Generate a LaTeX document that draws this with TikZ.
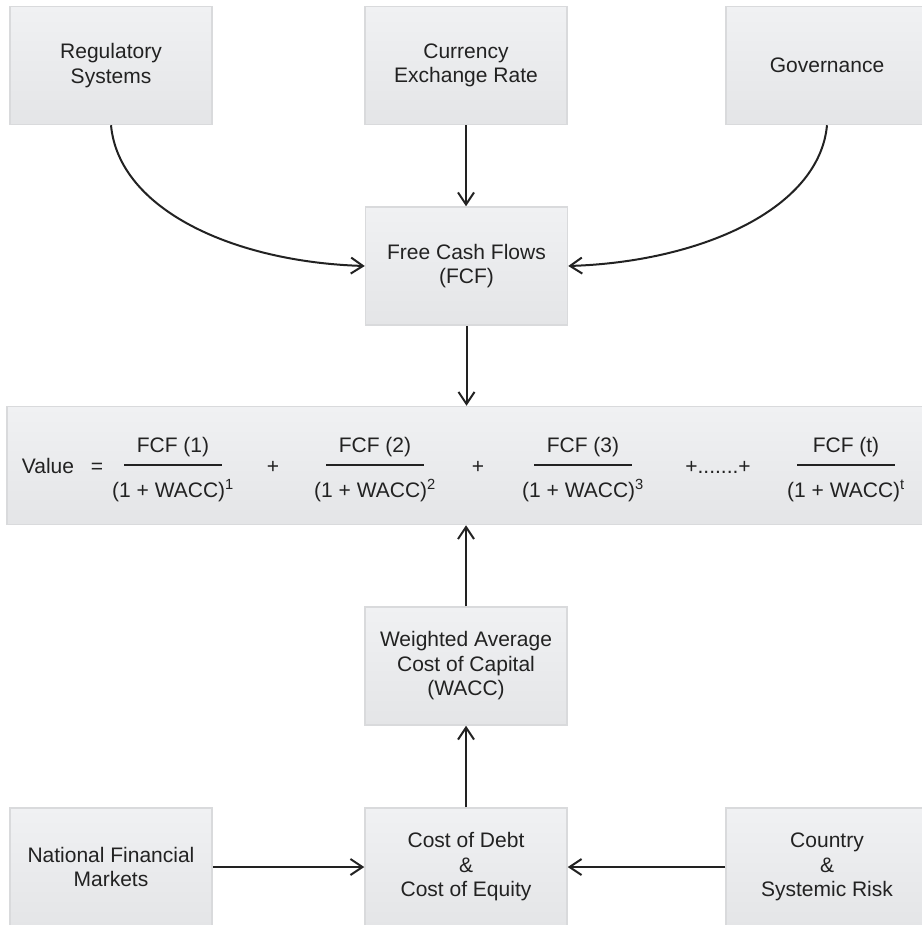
\documentclass[tikz,border=0pt]{standalone}
\usepackage{fontspec}
\setmainfont{Liberation Sans}
\usetikzlibrary{arrows.meta, positioning}
\definecolor{boxtop}{HTML}{F0F1F3}
\definecolor{boxbot}{HTML}{E4E5E7}
\definecolor{boxline}{HTML}{D9DADC}
\definecolor{ink}{HTML}{222222}

\begin{document}
\begin{tikzpicture}[x=1pt, y=-1pt,
  factor/.style={draw=boxline, line width=1.5pt, top color=boxtop, bottom color=boxbot,
    minimum width=202pt, minimum height=118pt, align=center, inner sep=0pt,
    text=ink, font=\fontsize{21}{24.5}\selectfont},
  flow/.style={line width=2pt, draw=ink, -{Straight Barb[length=12pt,width=16pt]}},
  eq/.style={text=ink, font=\fontsize{21}{24}\selectfont, inner sep=0pt, anchor=base}]
\useasboundingbox (0,0) rectangle (921,925);

% Influences on free cash flows
\node[factor] (reg) at (111,65.5) {Regulatory\\Systems};
\node[factor] (cur) at (466,65.5) {Currency\\Exchange Rate};
\node[factor] (gov) at (827,65.5) {Governance};
\node[factor] (fcf) at (466.5,266) {Free Cash Flows\\(FCF)};

% Valuation formula
\node[factor, minimum width=921pt] (val) at (467.5,465.5) {};
\node[eq] (lhs) at (48,473) {Value};
\node[eq] (equals) at (97,473) {=};
\node[eq] (plusa) at (273,473) {+};
\node[eq] (plusb) at (478,473) {+};
\node[eq] (dots) at (718,473) {+.......+};
\foreach \cx/\k in {173/1, 375/2, 583/3, 846/t} {
    \node[eq] (num\k) at (\cx,452) {FCF (\k)};
    \node[eq] (den\k) at (\cx,497) {(1 + WACC)\textsuperscript{\k}};
    \draw[line width=1.8pt, ink] (\cx-49,465) -- (\cx+49,465);
}

% Cost of capital
\node[factor] (wacc) at (466,666) {Weighted Average\\Cost of Capital\\(WACC)};
\node[factor] (nfm) at (111,867) {National Financial\\Markets};
\node[factor] (debt) at (466,867) {Cost of Debt\\\&\\Cost of Equity};
\node[factor] (risk) at (827,867) {Country\\\&\\Systemic Risk};

% Connectors
\draw[flow] (reg.south) .. controls +(8,85) and +(-130,-4) .. (fcf.west);
\draw[flow] (gov.south) .. controls +(-8,85) and +(130,-4) .. (fcf.east);
\draw[flow] (cur.south) -- (cur.south |- fcf.north);
\draw[flow] (fcf.south) -- (fcf.south |- val.north);
\draw[flow] (wacc.north) -- (wacc.north |- val.south);
\draw[flow] (debt.north) -- (wacc.south);
\draw[flow] (nfm.east) -- (debt.west);
\draw[flow] (risk.west) -- (debt.east);
\end{tikzpicture}
\end{document}
